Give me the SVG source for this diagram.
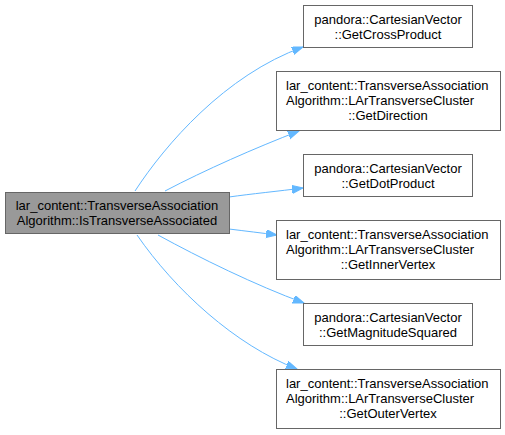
<svg xmlns="http://www.w3.org/2000/svg" width="505" height="435" viewBox="0 0 505 435">
<defs>
<style>
.box{fill:#ffffff;stroke:#666666;stroke-width:1}
.main{fill:#999999;stroke:#666666;stroke-width:1}
text{font-family:"Liberation Sans",Arial,sans-serif;font-size:13px;fill:#000000}
.c{text-anchor:middle}
.e{fill:none;stroke:#63b8ff;stroke-width:1}
</style>
<marker id="ah" markerUnits="userSpaceOnUse" markerWidth="12" markerHeight="10" refX="11" refY="4" orient="auto">
<path d="M0,0 L11,4 L0,8 Z" fill="#63b8ff" stroke="#63b8ff" stroke-width="1"/>
</marker>
</defs>
<rect width="505" height="435" fill="#ffffff"/>
<g id="edges">
<path class="e" marker-end="url(#ah)" d="M135,191 C165,145 225,75 303,47"/>
<path class="e" marker-end="url(#ah)" d="M165,191 C205,170 255,148 299,131"/>
<path class="e" marker-end="url(#ah)" d="M229,197 C250,194 280,191 303,188"/>
<path class="e" marker-end="url(#ah)" d="M229,229 C245,231 262,233 277,235"/>
<path class="e" marker-end="url(#ah)" d="M158,235 C200,258 255,285 304,303"/>
<path class="e" marker-end="url(#ah)" d="M137,235 C175,290 235,345 297,369"/>
</g>
<g id="node-main">
<rect class="main" x="5.5" y="192.5" width="224" height="41"/>
<text class="c" x="117" y="210">lar_content::TransverseAssociation</text>
<text class="c" x="117" y="225">Algorithm::IsTransverseAssociated</text>
</g>
<g id="node-crossproduct">
<rect class="box" x="303.5" y="5.5" width="169" height="42"/>
<text class="c" x="388" y="24">pandora::CartesianVector</text>
<text class="c" x="388" y="39">::GetCrossProduct</text>
</g>
<g id="node-direction">
<rect class="box" x="276.5" y="71.5" width="224" height="59"/>
<text x="286" y="90">lar_content::TransverseAssociation</text>
<text x="286" y="105">Algorithm::LArTransverseCluster</text>
<text class="c" x="388" y="120">::GetDirection</text>
</g>
<g id="node-dotproduct">
<rect class="box" x="303.5" y="154.5" width="169" height="42"/>
<text class="c" x="388" y="173">pandora::CartesianVector</text>
<text class="c" x="388" y="188">::GetDotProduct</text>
</g>
<g id="node-innervertex">
<rect class="box" x="276.5" y="220.5" width="224" height="59"/>
<text x="286" y="239">lar_content::TransverseAssociation</text>
<text x="286" y="254">Algorithm::LArTransverseCluster</text>
<text class="c" x="388" y="269">::GetInnerVertex</text>
</g>
<g id="node-magnitudesquared">
<rect class="box" x="303.5" y="303.5" width="169" height="42"/>
<text class="c" x="388" y="322">pandora::CartesianVector</text>
<text class="c" x="388" y="337">::GetMagnitudeSquared</text>
</g>
<g id="node-outervertex">
<rect class="box" x="276.5" y="369.5" width="224" height="59"/>
<text x="286" y="388">lar_content::TransverseAssociation</text>
<text x="286" y="403">Algorithm::LArTransverseCluster</text>
<text class="c" x="388" y="418">::GetOuterVertex</text>
</g>
</svg>
